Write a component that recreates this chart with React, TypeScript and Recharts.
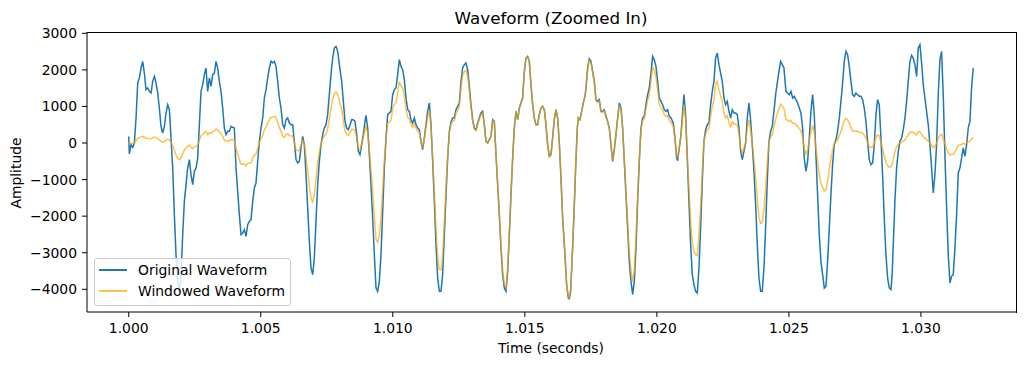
import React from 'react';
import { LineChart, Line, XAxis, YAxis } from 'recharts';

// sample times in ms after t = 1.000 s
const timeMs = [
  0, 0.024, 0.088, 0.151, 0.214, 0.277, 0.34, 0.403, 0.466, 0.529,
  0.592, 0.655, 0.719, 0.782, 0.845, 0.908, 0.971, 1.034, 1.097, 1.16,
  1.223, 1.287, 1.35, 1.413, 1.476, 1.539, 1.602, 1.665, 1.728, 1.791,
  1.855, 1.918, 1.981, 2.044, 2.107, 2.17, 2.233, 2.296, 2.359, 2.423,
  2.486, 2.549, 2.612, 2.675, 2.738, 2.801, 2.864, 2.927, 2.99, 3.054,
  3.117, 3.18, 3.243, 3.306, 3.369, 3.432, 3.495, 3.558, 3.621, 3.685,
  3.748, 3.811, 3.874, 3.937, 4.0,
  4.063, 4.126, 4.189, 4.253, 4.316, 4.379, 4.442, 4.505, 4.568, 4.631,
  4.694, 4.757, 4.82, 4.884, 4.947, 5.01, 5.073, 5.136, 5.199, 5.262,
  5.325, 5.388, 5.452, 5.515, 5.578, 5.641, 5.704, 5.767, 5.83, 5.893,
  5.956, 6.019, 6.083, 6.146, 6.209, 6.272, 6.335, 6.398, 6.461, 6.524,
  6.587, 6.65, 6.714, 6.777, 6.84, 6.903, 6.966, 7.029, 7.092, 7.155,
  7.218, 7.282, 7.345, 7.408, 7.471, 7.534, 7.597, 7.66, 7.723, 7.786,
  7.849, 7.913, 7.976,
  8.064, 8.127, 8.19, 8.253, 8.316, 8.38, 8.443, 8.506, 8.569, 8.632,
  8.695, 8.758, 8.821, 8.884, 8.948, 8.985, 9.049, 9.112, 9.175, 9.238,
  9.301, 9.364, 9.427, 9.49, 9.553, 9.617, 9.68, 9.743, 9.806, 9.869,
  9.932, 9.995, 10.058, 10.121, 10.185, 10.248, 10.311, 10.374, 10.437, 10.5,
  10.563, 10.626, 10.689, 10.753, 10.816, 10.879, 10.942, 11.005, 11.068, 11.131,
  11.194, 11.257, 11.32, 11.384, 11.447, 11.51, 11.573, 11.636, 11.699, 11.762,
  11.825, 11.888, 11.952, 12.015, 12.078, 12.141, 12.204,
  12.267, 12.33, 12.393, 12.456, 12.519, 12.583, 12.646, 12.709, 12.772, 12.835,
  12.898, 12.961, 13.024, 13.087, 13.15, 13.214, 13.277, 13.34, 13.403, 13.466,
  13.529, 13.592, 13.655, 13.718, 13.782, 13.845, 13.908, 13.971, 14.034, 14.097,
  14.16, 14.223, 14.286, 14.35, 14.413, 14.476, 14.539, 14.602, 14.665, 14.728,
  14.791, 14.854, 14.917, 14.981, 15.044, 15.107, 15.17, 15.233, 15.296, 15.359,
  15.422, 15.485, 15.549, 15.612, 15.675, 15.738, 15.801, 15.864, 15.927, 15.99,
  16.053, 16.116, 16.18, 16.243, 16.306, 16.369, 16.432,
  16.52, 16.583, 16.647, 16.684, 16.735, 16.798, 16.861, 16.924, 16.987, 17.025,
  17.088, 17.151, 17.214, 17.278, 17.315, 17.379, 17.442, 17.505, 17.568, 17.631,
  17.694, 17.757, 17.82, 17.883, 17.947, 18.01, 18.073, 18.136, 18.199, 18.262,
  18.325, 18.388, 18.451, 18.515, 18.578, 18.641, 18.704, 18.767, 18.83, 18.893,
  18.956, 19.019, 19.083, 19.146, 19.209, 19.272, 19.335, 19.398, 19.461, 19.524,
  19.587, 19.651, 19.714, 19.777, 19.84, 19.903, 19.966, 20.029, 20.092, 20.155,
  20.219, 20.282, 20.345, 20.408, 20.471, 20.534,
  20.622, 20.685, 20.748, 20.786, 20.849, 20.913, 20.976, 21.026, 21.089, 21.152,
  21.215, 21.279, 21.342, 21.405, 21.468, 21.531, 21.594, 21.657, 21.72, 21.783,
  21.846, 21.91, 21.973, 22.036, 22.099, 22.162, 22.225, 22.288, 22.351, 22.414,
  22.477, 22.541, 22.604, 22.667, 22.73, 22.793, 22.856, 22.919, 22.982, 23.045,
  23.109, 23.172, 23.235, 23.298, 23.361, 23.424, 23.487, 23.55, 23.613, 23.677,
  23.74, 23.803, 23.866, 23.929, 23.992, 24.055, 24.118, 24.181, 24.245, 24.308,
  24.371, 24.434, 24.497, 24.56, 24.623, 24.686, 24.749, 24.812,
  24.888, 24.951, 25.014, 25.078, 25.141, 25.204, 25.267, 25.33, 25.393, 25.456,
  25.519, 25.582, 25.645, 25.709, 25.772, 25.835, 25.898, 25.961, 26.024, 26.087,
  26.15, 26.213, 26.277, 26.34, 26.403, 26.466, 26.529, 26.592, 26.655, 26.718,
  26.781, 26.844, 26.908, 26.971, 27.034, 27.097, 27.16, 27.223, 27.286, 27.349,
  27.412, 27.476, 27.539, 27.602, 27.665, 27.728, 27.791, 27.854, 27.917, 27.98,
  28.044, 28.107, 28.17, 28.233, 28.296, 28.359, 28.422, 28.485, 28.548, 28.611,
  28.675, 28.738, 28.801, 28.864,
  28.91, 28.952, 29.015, 29.078, 29.142, 29.205, 29.268, 29.331, 29.394, 29.457,
  29.52, 29.583, 29.646, 29.709, 29.773, 29.836, 29.899, 29.962, 30.025, 30.088,
  30.151, 30.214, 30.277, 30.34, 30.404, 30.467, 30.53, 30.593, 30.656, 30.719,
  30.782, 30.845, 30.908, 30.972, 31.035, 31.098, 31.161, 31.224, 31.287, 31.35,
  31.413, 31.476, 31.539, 31.603, 31.666, 31.729, 31.792, 31.855, 31.918, 31.981,
];

const original = [
  180, -300, -46, -118, 0, 684, 1641, 1778, 2051, 2234,
  1914, 1459, 1504, 1413, 1368, 1687, 1823, 1641, 1368, 957,
  456, 274, 456, 821, 1048, 912, 137, -683, -1959, -3053,
  -3782, -4056, -3600, -2506, -1595, -1139, -683, -455, -866, -1139,
  -774, -683, -410, 502, 1413, 1595, 1869, 2051, 1413, 1778,
  1550, 1869, 1914, 2234, 2051, 1687, 1413, 957, 410, 228,
  319, 319, 456, 430, 410,
  -683, -1321, -1959, -2506, -2461, -2370, -2552, -2233, -2142, -2096,
  -1595, -1230, -1094, -501, 46, 410, 684, 1231, 1459, 1778,
  2051, 2234, 2188, 2234, 2097, 1687, 1231, 957, 502, 410,
  638, 684, 547, 502, 502, 46, -455, -547, -501, -136,
  182, -46, -866, -1777, -2689, -3418, -3600, -3144, -2142, -1139,
  -501, -46, 228, 410, 502, 775, 1322, 1869, 2325, 2598,
  2644, 2507, 2142,
  1687, 1140, 593, 410, 365, 502, 638, 638, 593, 228,
  -227, -319, -46, 228, 593, 757, 410, -319, -1139, -2051,
  -3053, -3965, -4056, -3782, -3053, -1868, -683, 137, 775, 821,
  866, 1322, 1459, 1504, 1869, 2279, 2097, 2006, 1732, 1231,
  912, 866, 638, 547, 684, 502, 410, 365, 46, -182,
  137, 502, 866, 1094, 502, -501, -1595, -2780, -3691, -4056,
  -4056, -3600, -2506, -1413, -410, 319, 570,
  684, 684, 912, 1003, 1094, 1687, 2051, 2142, 2188, 2006,
  1550, 1048, 638, 410, 365, 547, 684, 821, 866, 502,
  46, 0, 91, 182, 638, 593, -319, -1139, -1959, -2871,
  -3600, -3965, -4056, -3509, -2506, -1413, -410, 410, 866, 638,
  957, 1094, 1231, 1960, 2325, 2370, 2234, 1595, 1048, 684,
  502, 502, 775, 957, 1003, 912, 502, -46, -364, -319,
  137, 638, 912, 684, 0, -957, -2050,
  -3053, -3874, -4238, -4256, -4056, -3053, -1959, -683, 410, 684,
  638, 866, 1094, 1276, 1504, 2051, 2306, 2234, 1960, 1687,
  1185, 1140, 1185, 866, 866, 912, 729, 593, 410, -46,
  -501, -182, 228, 684, 1094, 957, 410, -501, -1413, -2324,
  -3236, -3782, -4147, -3782, -2871, -1595, -501, 410, 684, 729,
  1048, 1322, 1504, 1914, 2370, 2279, 2097, 1687, 1231, 1140,
  1048, 912, 866, 912, 729, 684,
  547, 137, -410, -483, -136, 228, 866, 1322, 775, -410,
  -1595, -2780, -3600, -3874, -4056, -4102, -3418, -2324, -1048, 46,
  365, 502, 547, 1048, 1413, 1687, 2325, 2461, 2142, 1914,
  1687, 1231, 1048, 1140, 866, 684, 912, 821, 821, 775,
  410, -227, -455, -227, 0, 684, 1094, 638, -46, -774,
  -1686, -2780, -3691, -4056, -4056, -3418, -2324, -1048, 46, 319,
  456, 866, 1322, 1641, 1960, 2234, 2142, 2051,
  1413, 1368, 1322, 1413, 1231, 1276, 1185, 1094, 957, 821,
  410, -410, -774, -501, 137, 866, 1322, 775, -319, -1413,
  -2506, -3236, -3600, -3965, -3919, -3236, -2324, -1413, -592, -46,
  91, 319, 684, 1140, 1641, 2234, 2507, 2416, 2097, 1687,
  1322, 1276, 1368, 1322, 1276, 1276, 1185, 957, 593, 46,
  -455, -592, -547, -46, 775, 1185, 1048, 137, -866, -2051,
  -3053, -3691, -3965, -4010,
  -3600, -2780, -1595, -683, -227, 46, 137, 365, 684, 1140,
  1687, 2234, 2398, 2325, 2142, 1823, 2598, 2689, 2188, 1595,
  1231, 866, 502, -46, -683, -1367, -866, -46, 1322, 2279,
  2507, 1322, -319, -1777, -3053, -3828, -3646, -3600, -2871, -1959,
  -820, -683, -410, -136, -364, -46, 410, 593, 1504, 2051,
];

const windowed = [
  14, -24, -4, -9, 0, 55, 132, 144, 168, 184,
  158, 121, 125, 118, 115, 143, 161, 146, 123, 87,
  42, 26, 44, 80, 104, 92, 14, -71, -207, -330,
  -416, -454, -410, -291, -190, -139, -85, -58, -112, -150,
  -104, -93, -57, 71, 206, 237, 283, 317, 223, 286,
  254, 312, 325, 387, 362, 304, 261, 180, 78, 44,
  63, 64, 93, 90, 88,
  -150, -296, -447, -581, -581, -571, -625, -556, -544, -541,
  -419, -328, -298, -139, 13, 117, 199, 364, 439, 544,
  638, 706, 700, 726, 692, 565, 419, 331, 176, 146,
  230, 251, 203, 189, 192, 18, -179, -218, -203, -56,
  76, -19, -370, -768, -1175, -1514, -1613, -1427, -983, -530,
  -235, -22, 110, 200, 247, 387, 668, 953, 1200, 1356,
  1393, 1336, 1155,
  923, 629, 331, 231, 208, 289, 371, 374, 351, 136,
  -137, -194, -28, 142, 371, 477, 260, -204, -736, -1337,
  -2006, -2629, -2713, -2549, -2076, -1280, -472, 95, 543, 580,
  617, 949, 1055, 1095, 1370, 1682, 1558, 1500, 1304, 933,
  696, 665, 493, 426, 536, 396, 325, 291, 37, -147,
  111, 410, 710, 903, 416, -418, -1337, -2344, -3126, -3452,
  -3472, -3096, -2165, -1226, -358, 279, 501,
  604, 607, 813, 897, 982, 1520, 1856, 1945, 1995, 1835,
  1423, 966, 590, 380, 340, 511, 641, 772, 817, 475,
  44, 0, 87, 174, 611, 570, -307, -1099, -1894, -2782,
  -3496, -3858, -3955, -3428, -2453, -1385, -403, 403, 853, 629,
  946, 1082, 1219, 1942, 2309, 2356, 2223, 1589, 1044, 682,
  501, 501, 774, 956, 1002, 911, 502, -46, -364, -319,
  137, 638, 912, 684, 0, -957, -2049,
  -3047, -3862, -4221, -4235, -4032, -3032, -1943, -677, 406, 677,
  631, 855, 1079, 1257, 1480, 2014, 2262, 2189, 1917, 1647,
  1154, 1108, 1149, 838, 837, 879, 701, 569, 393, -44,
  -477, -173, 216, 646, 1031, 899, 384, -467, -1314, -2152,
  -2987, -3479, -3803, -3453, -2613, -1445, -452, 369, 613, 651,
  932, 1170, 1325, 1679, 2071, 1983, 1816, 1454, 1056, 972,
  890, 770, 727, 762, 606, 566,
  449, 112, -332, -390, -109, 182, 688, 1044, 608, -320,
  -1236, -2141, -2754, -2944, -3062, -3081, -2546, -1720, -770, 34,
  264, 361, 390, 742, 993, 1176, 1609, 1688, 1459, 1292,
  1130, 819, 691, 746, 562, 440, 582, 520, 516, 482,
  253, -138, -275, -136, 0, 402, 636, 367, -26, -437,
  -941, -1537, -2019, -2198, -2174, -1815, -1220, -544, 24, 162,
  229, 430, 649, 798, 941, 1059, 1002, 950,
  644, 616, 588, 620, 534, 546, 501, 456, 393, 333,
  164, -162, -302, -192, 52, 324, 488, 281, -114, -499,
  -872, -1110, -1213, -1316, -1282, -1042, -737, -441, -182, -14,
  27, 93, 197, 323, 456, 612, 674, 638, 545, 430,
  332, 314, 331, 315, 297, 292, 267, 211, 129, 10,
  -95, -122, -110, -9, 150, 225, 196, 25, -156, -361,
  -525, -624, -658, -650,
  -576, -439, -246, -103, -34, 7, 19, 51, 93, 153,
  221, 288, 302, 288, 261, 217, 304, 307, 245, 175,
  133, 92, 52, -5, -68, -135, -84, -4, 124, 212,
  231, 120, -29, -158, -269, -333, -314, -306, -244, -165,
  -68, -56, -34, -11, -29, -4, 33, 47, 120, 164,
];

const xTicks = [1.0, 1.005, 1.01, 1.015, 1.02, 1.025, 1.03];
const yTicks = [-4000, -3000, -2000, -1000, 0, 1000, 2000, 3000];

const rows = timeMs.map((ms, i) => ({
  t: 1 + ms / 1000,
  original: original[i],
  windowed: windowed[i],
}));

const FONT = "'DejaVu Sans', sans-serif";
const X_DOMAIN: [number, number] = [0.99842, 1.0336];
const Y_DOMAIN: [number, number] = [-4621, 3036];
const tickStyle = { fill: '#000', fontSize: 13.9, fontFamily: FONT };
const minus = (v: number) => String(v).replace('-', '\u2212');

export default function App() {
  return (
    <div style={{ position: 'absolute', left: 0, top: 0, width: 1026, height: 365, background: '#fff', fontFamily: FONT }}>
      <LineChart width={1026} height={365} data={rows} margin={{ top: 32, right: 10, bottom: 23, left: 27 }}>
        <XAxis
          type="number"
          dataKey="t"
          domain={X_DOMAIN}
          allowDataOverflow
          ticks={xTicks}
          tickFormatter={(v: number) => v.toFixed(3)}
          height={30}
          stroke="#000"
          tickSize={5}
          tickMargin={6}
          tick={tickStyle}
        />
        <YAxis
          type="number"
          domain={Y_DOMAIN}
          allowDataOverflow
          ticks={yTicks}
          tickFormatter={minus}
          width={60}
          stroke="#000"
          tickSize={5}
          tickMargin={5}
          tick={tickStyle}
        />
        <Line type="linear" dataKey="original" stroke="#1f77b4" strokeWidth={1.5} dot={false} isAnimationActive={false} />
        <Line type="linear" dataKey="windowed" stroke="#ffa500" strokeOpacity={0.7} strokeWidth={1.5} dot={false} isAnimationActive={false} />
      </LineChart>

      {/* top and right spines of the axes frame */}
      <div
        style={{
          position: 'absolute',
          left: 87,
          top: 31.5,
          width: 929.5,
          height: 281,
          boxSizing: 'border-box',
          borderTop: '1px solid #000',
          borderRight: '1px solid #000',
          pointerEvents: 'none',
        }}
      />

      <div style={{ position: 'absolute', left: 351, top: 8, width: 400, textAlign: 'center', fontSize: 16.7, lineHeight: '20px' }}>
        Waveform (Zoomed In)
      </div>
      <div style={{ position: 'absolute', left: 451, top: 340, width: 200, textAlign: 'center', fontSize: 13.9, lineHeight: '16px' }}>
        Time (seconds)
      </div>
      <div style={{ position: 'absolute', left: -34, top: 165, width: 100, height: 16, textAlign: 'center', fontSize: 13.9, lineHeight: '16px', transform: 'rotate(-90deg)' }}>
        Amplitude
      </div>

      <div
        style={{
          position: 'absolute',
          left: 94,
          top: 258,
          width: 195,
          height: 46,
          border: '1px solid #cccccc',
          borderRadius: 3,
          background: 'rgba(255,255,255,0.8)',
          fontSize: 13.9,
        }}
      >
        {[
          { label: 'Original Waveform', color: '#1f77b4', opacity: 1, top: 2 },
          { label: 'Windowed Waveform', color: '#ffa500', opacity: 0.7, top: 23 },
        ].map((item) => (
          <div key={item.label} style={{ position: 'absolute', left: 4, top: item.top, height: 18, display: 'flex', alignItems: 'center' }}>
            <div style={{ width: 28, height: 2, background: item.color, opacity: item.opacity }} />
            <span style={{ marginLeft: 11, lineHeight: '18px', whiteSpace: 'nowrap' }}>{item.label}</span>
          </div>
        ))}
      </div>
    </div>
  );
}
